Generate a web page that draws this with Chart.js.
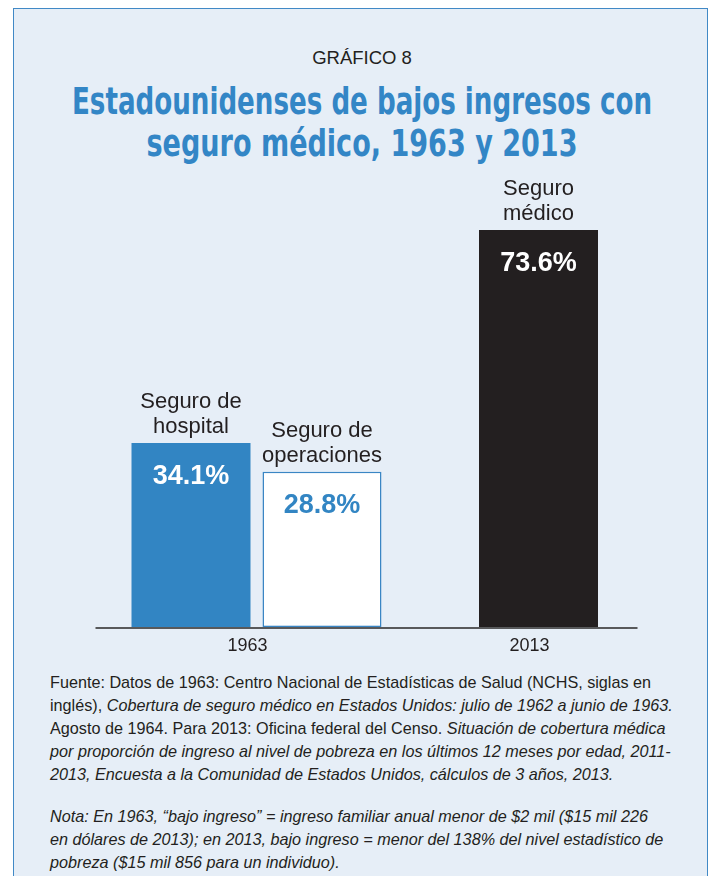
<!DOCTYPE html>
<html lang="es">
<head>
<meta charset="utf-8">
<script src="https://cdn.jsdelivr.net/npm/chart.js@4"></script>
<style>
  body { margin: 0; background: #fff; width: 710px; height: 876px; overflow: hidden; position: relative;
         font-family: "Liberation Sans", Arial, sans-serif; color: #231f20; }
  #panel { position: absolute; left: 13px; top: 8px; width: 693px; height: 900px; background: #e6eef7; border: 1.5px solid #4189c6; }
  #chart { position: absolute; left: 0; top: 0; }
  .kicker { position: absolute; left: 7px; width: 710px; top: 47px; line-height: 22px; text-align: center; font-size: 18.5px; }
  .title { position: absolute; left: 362px; line-height: 42px; white-space: nowrap; transform-origin: center;
           font-family: "Liberation Sans Narrow", "DejaVu Sans Condensed", "Liberation Sans", sans-serif;
           font-weight: bold; color: #3386c6; font-size: 38px; }
  .note { position: absolute; left: 50px; font-size: 16.2px; white-space: nowrap; line-height: 23px; }
</style>
</head>
<body>
<div id="panel"></div>
<div class="kicker">GRÁFICO 8</div>
<div class="title" style="top:80px" data-w="580">Estadounidenses de bajos ingresos con</div>
<div class="title" style="top:122px" data-w="431">seguro médico, 1963 y 2013</div>
<canvas id="chart" width="710" height="670"></canvas>
<div class="note" style="top:671px">
  Fuente: Datos de 1963: Centro Nacional de Estadísticas de Salud (NCHS, siglas en<br>
  inglés), <i>Cobertura de seguro médico en Estados Unidos: julio de 1962 a junio de 1963.</i><br>
  Agosto de 1964. Para 2013: Oficina federal del Censo. <i>Situación de cobertura médica</i><br>
  <i>por proporción de ingreso al nivel de pobreza en los últimos 12 meses por edad, 2011-</i><br>
  <i>2013, Encuesta a la Comunidad de Estados Unidos, cálculos de 3 años, 2013.</i>
</div>
<div class="note" style="top:805px">
  <i>Nota: En 1963, “bajo ingreso” = ingreso familiar anual menor de $2 mil ($15 mil 226</i><br>
  <i>en dólares de 2013); en 2013, bajo ingreso = menor del 138% del nivel estadístico de</i><br>
  <i>pobreza ($15 mil 856 para un individuo).</i>
</div>
<script>
// datos del gráfico
const years = ["1963", "2013"];
const hospital = [34.1, null];
const operaciones = [28.8, null];
const medico = [null, 73.6];
const seriesNames = [["Seguro de", "hospital"], ["Seguro de", "operaciones"], ["Seguro", "médico"]];

// ajustar el ancho del título (fuente condensada) y centrarlo
document.querySelectorAll(".title").forEach(s => {
  const w = s.getBoundingClientRect().width;
  s.style.transform = `translateX(-50%) scaleX(${s.dataset.w / w})`;
});

const FONT = '"Liberation Sans", Arial, sans-serif';

// etiquetas: valor dentro de la barra y nombre encima
const barLabels = {
  id: "barLabels",
  afterDatasetsDraw(chart) {
    const ctx = chart.ctx;
    chart.data.datasets.forEach((ds, i) => {
      chart.getDatasetMeta(i).data.forEach((bar, j) => {
        const v = ds.data[j];
        if (v == null) return;
        ctx.save();
        ctx.textAlign = "center";
        ctx.textBaseline = "alphabetic";
        ctx.fillStyle = ds.valueColor;
        ctx.font = "bold 27px " + FONT;
        ctx.fillText(v.toFixed(1) + "%", bar.x, bar.y + 41);
        ctx.fillStyle = "#231f20";
        ctx.font = "22px " + FONT;
        const lines = seriesNames[i];
        lines.forEach((t, k) => ctx.fillText(t, bar.x, bar.y - 10 - (lines.length - 1 - k) * 25));
        ctx.restore();
      });
    });
  }
};

// línea base
const baseLine = {
  id: "baseLine",
  afterDatasetsDraw(chart) {
    const { ctx, chartArea, scales } = chart;
    const y = scales.y.getPixelForValue(0) + 1;
    ctx.save();
    ctx.strokeStyle = "#58595b";
    ctx.lineWidth = 2;
    ctx.beginPath();
    ctx.moveTo(chartArea.left - 20, y);
    ctx.lineTo(chartArea.right - 42, y);
    ctx.stroke();
    ctx.restore();
  }
};

new Chart(document.getElementById("chart"), {
  type: "bar",
  data: {
    labels: years,
    datasets: [
      { label: "Seguro de hospital", data: hospital, backgroundColor: "#3285c3", borderWidth: 0, valueColor: "#ffffff" },
      { label: "Seguro de operaciones", data: operaciones, backgroundColor: "#ffffff", borderColor: "#3a86c4",
        borderWidth: 1.5, borderSkipped: false, valueColor: "#3285c3" },
      { label: "Seguro médico", data: medico, backgroundColor: "#231f20", borderWidth: 0, valueColor: "#ffffff" }
    ]
  },
  options: {
    responsive: false,
    animation: false,
    skipNull: true,
    categoryPercentage: 0.929,
    barPercentage: 1,
    maxBarThickness: 119,
    layout: { padding: { left: 115.5, right: 30.5, top: 195.6, bottom: 5.4 } },
    plugins: { legend: { display: false }, tooltip: { enabled: false } },
    scales: {
      x: {
        grid: { display: false, drawTicks: false },
        border: { display: false },
        ticks: { color: "#231f20", font: { family: FONT, size: 18 }, padding: 8, labelOffset: -9 }
      },
      y: { display: false, min: 0, max: 80 }
    }
  },
  plugins: [barLabels, baseLine]
});
</script>
</body>
</html>
